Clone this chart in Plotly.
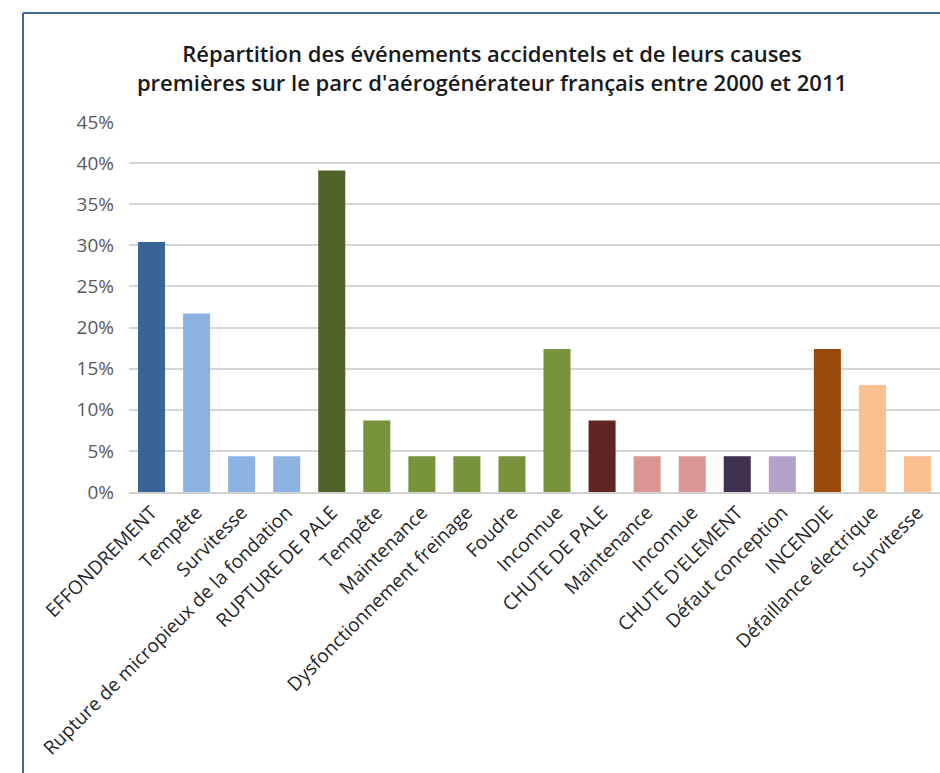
import plotly.graph_objects as go

categories = ["EFFONDREMENT", "Tempête", "Survitesse", "Rupture de micropieux de la fondation",
              "RUPTURE DE PALE", "Tempête", "Maintenance", "Dysfonctionnement freinage", "Foudre",
              "Inconnue", "CHUTE DE PALE", "Maintenance", "Inconnue", "CHUTE D'ELEMENT",
              "Défaut conception", "INCENDIE", "Défaillance électrique", "Survitesse"]
values = [0.304, 0.217, 0.0435, 0.0435, 0.391, 0.087, 0.0435, 0.0435, 0.0435,
          0.174, 0.087, 0.0435, 0.0435, 0.0435, 0.0435, 0.174, 0.130, 0.0435]
colors = ["#3A6496", "#8DB3E2", "#8DB3E2", "#8DB3E2", "#4F6228", "#77933C", "#77933C",
          "#77933C", "#77933C", "#77933C", "#632523", "#D99694", "#D99694", "#3F3151",
          "#B2A2C7", "#984807", "#FAC090", "#FAC090"]
y_ticks = [0, 0.05, 0.10, 0.15, 0.20, 0.25, 0.30, 0.35, 0.40, 0.45]
title_text = ("Répartition des événements accidentels et de leurs causes<br>"
              "premières sur le parc d'aérogénérateur français entre 2000 et 2011")

W, H = 940, 773
ml, mr, mt, mb = 129, 0, 122, 281
pw, ph = W - ml - mr, H - mt - mb

x_pos = list(range(len(categories)))

fig = go.Figure(go.Bar(
    x=x_pos, y=values, marker=dict(color=colors, line=dict(width=0)),
    hoverinfo="skip"))

def px_x(p):
    return (p - ml) / pw

def px_y(p):
    return (H - mb - p) / ph

border = dict(color="#3F6599", width=2)
# left edge and top edge of the chart frame (right/bottom are outside the picture)
fig.add_shape(type="line", xref="paper", yref="paper",
              x0=px_x(23), x1=px_x(23), y0=px_y(H + 20), y1=px_y(13), line=border, layer="above")
fig.add_shape(type="line", xref="paper", yref="paper",
              x0=px_x(23), x1=px_x(W + 20), y0=px_y(13), y1=px_y(13), line=border, layer="above")

fig.update_layout(
    width=W, height=H,
    margin=dict(l=ml, r=mr, t=mt, b=mb, autoexpand=False),
    paper_bgcolor="white", plot_bgcolor="white",
    bargap=0.4, showlegend=False,
    font=dict(family="Open Sans", color="#404040"),
    title=dict(text=title_text, x=492 / W, xanchor="center", xref="container",
               y=1 - 62 / H, yanchor="middle", yref="container",
               font=dict(family="Open Sans", size=22, weight=600, color="#1a1a1a")),
    xaxis=dict(tickmode="array", tickvals=x_pos, ticktext=categories, tickangle=-45,
               range=[-0.5, len(categories) - 0.5], showgrid=False, showline=True,
               linecolor="#D0D0D0", linewidth=2, tickfont=dict(size=19, color="#262626"),
               ticks=""),
    yaxis=dict(range=[0, 0.45], tickvals=y_ticks, tickformat=".0%", showgrid=True,
               gridcolor="#D6D6D6", gridwidth=2, zeroline=False, showline=False,
               tickfont=dict(size=19, color="#595959"), ticks="", ticklabelstandoff=14),
)

fig.write_html("out.html", config={"displayModeBar": False},
               post_script="document.body.style.margin='0';document.body.style.overflow='hidden';")
